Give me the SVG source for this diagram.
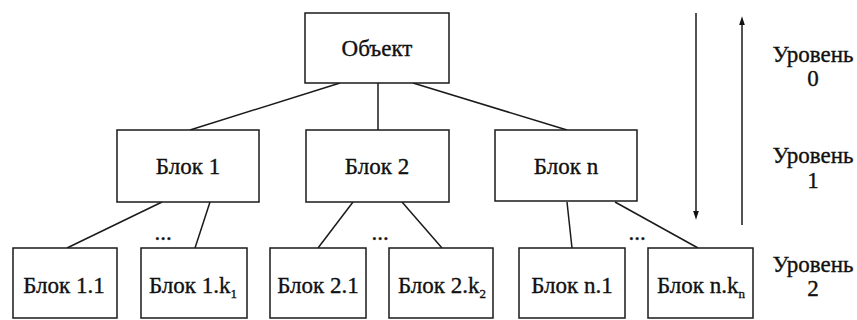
<svg xmlns="http://www.w3.org/2000/svg" width="857" height="320" viewBox="0 0 857 320">
<style>
.box{fill:#fff;stroke:#1a1a1a;stroke-width:1.5}
.t{font-family:"Liberation Serif","Times New Roman",serif;font-size:23px;fill:#111;stroke:#111;stroke-width:0.35;text-anchor:middle}
.sub{font-size:13px}
.c{stroke:#1a1a1a;stroke-width:1.5;fill:none}
</style>
<defs>
<marker id="ah" markerWidth="9" markerHeight="14" refX="5" refY="4.5" orient="auto" markerUnits="userSpaceOnUse" viewBox="0 0 14 9">
<path d="M0,0 L14,4.5 L0,9 Z" fill="#111"/>
</marker>
</defs>
<rect width="857" height="320" fill="#fff"/>
<g id="connectors">
<line class="c" x1="340" y1="83" x2="190" y2="130"/>
<line class="c" x1="378" y1="83" x2="378" y2="130"/>
<line class="c" x1="413" y1="83" x2="567" y2="130"/>
<line class="c" x1="162" y1="202" x2="67" y2="248"/>
<line class="c" x1="210" y1="202" x2="195" y2="248"/>
<line class="c" x1="353" y1="202" x2="318" y2="248"/>
<line class="c" x1="402" y1="202" x2="442" y2="248"/>
<line class="c" x1="567" y1="202" x2="572" y2="248"/>
<line class="c" x1="615" y1="202" x2="698" y2="248"/>
<line class="c" x1="696" y1="13" x2="696" y2="214" marker-end="url(#ah)"/>
<line class="c" x1="742" y1="225" x2="742" y2="22" marker-end="url(#ah)"/>
</g>
<g id="n0"><rect class="box" x="305" y="13" width="144" height="70"/><text class="t" x="377" y="56">Объект</text></g>
<g id="n1"><rect class="box" x="117" y="130" width="142" height="72"/><text class="t" x="188" y="174">Блок 1</text></g>
<g id="n2"><rect class="box" x="306" y="130" width="143" height="72"/><text class="t" x="377" y="174">Блок 2</text></g>
<g id="nn"><rect class="box" x="495" y="130" width="142" height="71"/><text class="t" x="566" y="174">Блок n</text></g>
<g id="n11"><rect class="box" x="13" y="248" width="104" height="70"/><text class="t" x="64" y="293">Блок 1.1</text></g>
<g id="n1k"><rect class="box" x="141" y="248" width="106" height="70"/><text class="t" x="193" y="293">Блок 1.k<tspan class="sub" dy="5">1</tspan></text></g>
<g id="n21"><rect class="box" x="270" y="248" width="96" height="70"/><text class="t" x="318" y="293">Блок 2.1</text></g>
<g id="n2k"><rect class="box" x="389" y="248" width="104" height="70"/><text class="t" x="442" y="293">Блок 2.k<tspan class="sub" dy="5">2</tspan></text></g>
<g id="nn1"><rect class="box" x="519" y="248" width="106" height="70"/><text class="t" x="572" y="293">Блок n.1</text></g>
<g id="nnk"><rect class="box" x="648" y="248" width="105" height="70"/><text class="t" x="701" y="293">Блок n.k<tspan class="sub" dy="5">n</tspan></text></g>
<g id="dots">
<text class="t" x="163" y="240">...</text>
<text class="t" x="380" y="240">...</text>
<text class="t" x="637" y="240">...</text>
</g>
<g id="levels">
<text class="t" x="813" y="62">Уровень</text><text class="t" x="813" y="86">0</text>
<text class="t" x="813" y="163">Уровень</text><text class="t" x="813" y="188">1</text>
<text class="t" x="813" y="272">Уровень</text><text class="t" x="813" y="296">2</text>
</g>
</svg>
